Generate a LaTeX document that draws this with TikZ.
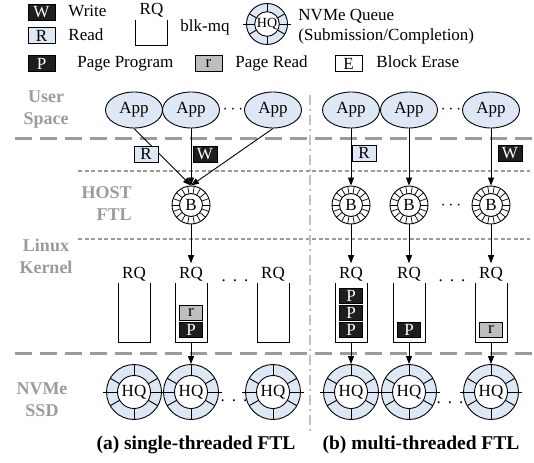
\documentclass[tikz,border=0pt]{standalone}
\usepackage{fontspec}
\setmainfont{Liberation Serif}
\usetikzlibrary{shapes.geometric,arrows.meta}
\definecolor{qfill}{RGB}{221,231,245}
\definecolor{lgray}{RGB}{155,155,155}
\definecolor{vgray}{RGB}{195,195,195}
\definecolor{rfill}{RGB}{190,190,190}
\definecolor{pfill}{RGB}{30,30,30}
\begin{document}
\begin{tikzpicture}[x=1pt, y=1pt, line width=0.9pt,
	font=\fontsize{17pt}{20pt}\selectfont,
	>={Triangle[length=8pt,width=6pt]},
	app/.style={ellipse, draw, fill=qfill, minimum width=57pt, minimum height=36pt, inner sep=0pt},
	tag/.style={draw, minimum width=24pt, minimum height=16pt, inner sep=0pt},
	wtag/.style={tag, fill=pfill, text=white},
	rtag/.style={tag, fill=qfill},
	ptag/.style={wtag, minimum width=23pt, minimum height=15pt},
	rdtag/.style={tag, fill=rfill, minimum width=23pt, minimum height=15pt},
	rqbox/.style={minimum width=31pt, minimum height=59pt, inner sep=0pt},
	bq/.style={circle, draw, fill=white, minimum size=38pt, inner sep=0pt,
		path picture={
			\foreach \a in {0,20,...,340}
			\draw[line width=0.7pt] (path picture bounding box.center) -- ++(\a:19pt);
			\draw[fill=white] (path picture bounding box.center) circle (11.5pt);
		}},
	hq/.style={circle, draw, fill=qfill, minimum size=2*#1, inner sep=0pt,
		path picture={
			\foreach \a in {30,90,...,330}
			\draw (path picture bounding box.center) -- ++(\a:#1);
			\draw (path picture bounding box.west) -- (path picture bounding box.east);
			\draw[fill=white] (path picture bounding box.center) circle (0.6*#1);
		}},
	hq/.default=27.5pt,
	layer/.style={font=\fontsize{18pt}{22pt}\selectfont\bfseries, text=lgray, align=center, inner sep=0pt},
	legtext/.style={anchor=base west, inner sep=0pt},
	caption/.style={font=\fontsize{19.5pt}{22pt}\selectfont\bfseries}]
	\useasboundingbox (0,0) rectangle (534,-462);
	
	%legend
	\node[wtag, minimum width=27pt] (lw) at (41.5,-12.5) {W};
	\node[legtext] (lwt) at (68,-17) {Write};
	\node[rtag, minimum width=27pt] (lr) at (41.5,-35.5) {R};
	\node[legtext] (lrt) at (68,-41) {Read};
	\node[wtag, minimum width=27pt] (lp) at (41.5,-63.5) {P};
	\node[legtext] (lpt) at (77,-68) {Page Program};
	\node[rdtag, minimum width=27pt, minimum height=16pt] (ld) at (208.5,-63.5) {r};
	\node[legtext] (ldt) at (235,-68) {Page Read};
	\node[tag, minimum width=27pt] (le) at (348.5,-63.5) {E};
	\node[legtext] (let) at (376,-68) {Block Erase};
	\node (lq) at (151.5,-10) {RQ};
	\node[rqbox, minimum height=25pt] (lrq) at (151.5,-32.5) {};
	\draw (lrq.north west) -- (lrq.south west) -- (lrq.south east) -- (lrq.north east);
	\node[legtext] (lqt) at (180,-32) {blk-mq};
	\node[hq=20.5pt, font=\fontsize{14pt}{16pt}\selectfont] (lh) at (267,-24) {HQ};
	\draw ([xshift=-3pt]lh.west) -- (lh.west) (lh.east) -- ([xshift=3pt]lh.east);
	\node[legtext] (lht) at (298,-21) {NVMe Queue};
	\node[legtext] (lhs) at (298,-41) {(Submission/Completion)};
	
	%layers
	\draw[lgray, line width=3pt, dash pattern=on 17pt off 8pt] (15,-139) -- (534,-139);
	\draw[lgray, line width=3pt, dash pattern=on 17pt off 8pt] (15,-353) -- (534,-353);
	\draw[lgray, line width=2pt, dash pattern=on 4pt off 2.5pt] (78,-171) -- (530,-171);
	\draw[lgray, line width=2pt, dash pattern=on 4pt off 2.5pt] (78,-239) -- (530,-239);
	\draw[vgray, line width=2.5pt, dash pattern=on 10pt off 4pt on 2pt off 4pt] (310,-95) -- (310,-432);
	\node[layer] (user) at (46,-110) {User\\Space};
	\node[layer, align=right, anchor=east] (host) at (132,-203.5) {HOST\\FTL};
	\node[layer] (kern) at (46,-256) {Linux\\Kernel};
	\node[layer] (ssd) at (42,-400) {NVMe\\SSD};
	
	%apps, host ftl, blk-mq, nvme
	\foreach \n/\x in {1/134,2/191,3/273,4/351,5/409,6/491}{
		\node[app] (app\n) at (\x,-110) {App};
		\node (q\n) at (\x,-274) {RQ};
		\node[rqbox] (rq\n) at (\x,-312.5) {};
		\draw (rq\n.north west) -- (rq\n.south west) -- (rq\n.south east) -- (rq\n.north east);
		\node[hq] (h\n) at (\x,-392) {HQ};
		\draw ([xshift=-3pt]h\n.west) -- (h\n.west) (h\n.east) -- ([xshift=3pt]h\n.east);
	}
	\foreach \n/\x in {2/191,4/351,5/409,6/491}
	\node[bq] (b\n) at (\x,-205) {B};
	
	%dots
	\node (d1) at (233,-110) {$\cdots$};
	\node (d2) at (451,-110) {$\cdots$};
	\node (d3) at (451,-206) {$\cdots$};
	\node[anchor=base] (d4) at (235,-281) {.\hspace{7pt}.\hspace{7pt}.};
	\node[anchor=base] (d5) at (452,-281) {.\hspace{7pt}.\hspace{7pt}.};
	\node[anchor=base] (d6) at (234,-401) {.\hspace{7pt}.\hspace{7pt}.};
	\node[anchor=base] (d7) at (450,-403) {.\hspace{7pt}.\hspace{7pt}.};
	
	%requests
	\draw[->] (app1.south) -- (b2.north);
	\draw[->] (app3.south) -- (b2.north);
	\foreach \n in {2,4,5,6}{
		\draw[->] (app\n.south) -- (b\n.north);
		\draw[->] (b\n.south) -- (q\n.north);
		\draw[->] (rq\n.south) -- (h\n.north);
	}
	\node[rtag] (t1) at (146,-154) {R};
	\node[wtag] (t2) at (205,-154) {W};
	\node[rtag] (t3) at (364,-153) {R};
	\node[wtag] (t4) at (510,-153) {W};
	
	%queued pages
	\node[rdtag] (p1) at (191,-312.5) {r};
	\node[ptag] (p2) at (191,-329.5) {P};
	\node[ptag] (p3) at (351,-295.5) {P};
	\node[ptag] (p4) at (351,-312.5) {P};
	\node[ptag] (p5) at (351,-329.5) {P};
	\node[ptag] (p6) at (409,-329.5) {P};
	\node[rdtag] (p7) at (491,-329.5) {r};
	
	%captions
	\node[caption] (ca) at (196,-445) {(a) single-threaded FTL};
	\node[caption] (cb) at (421,-445) {(b) multi-threaded FTL};
\end{tikzpicture}
\end{document}
